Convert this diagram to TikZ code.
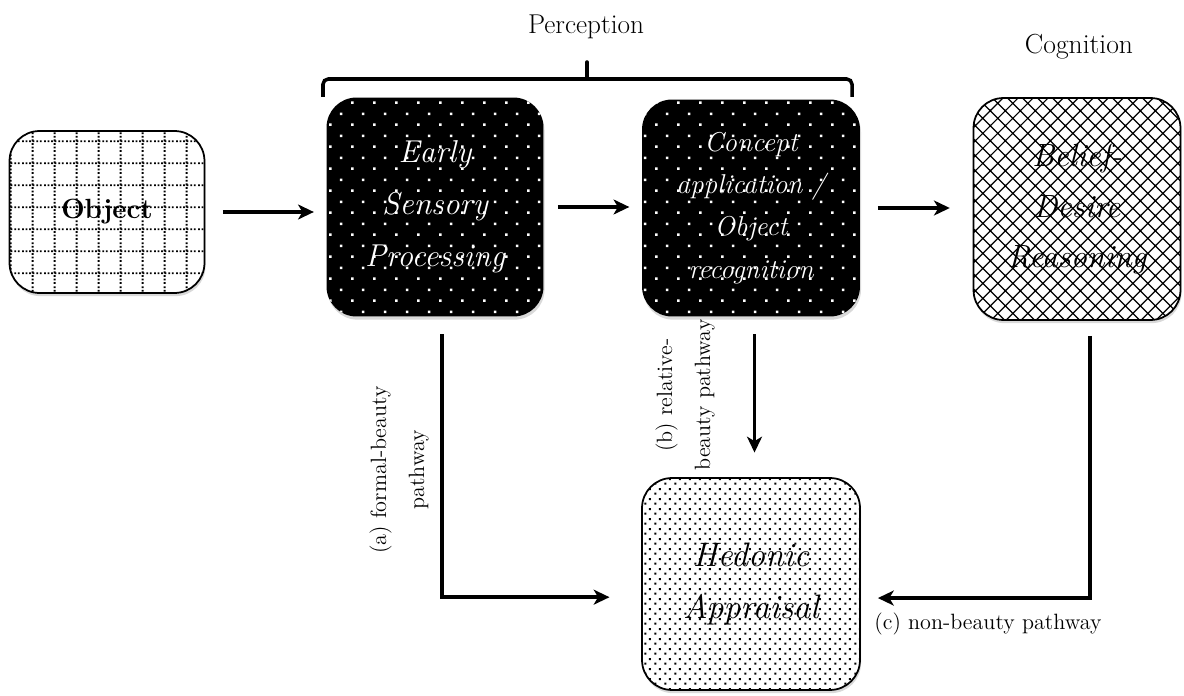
\documentclass[tikz,border=0pt]{standalone}
\usepackage{fontspec}
\usepackage{tikz}
\usetikzlibrary{calc,positioning,arrows.meta,shadows,patterns.meta}

% fill patterns of the stage boxes
\pgfdeclarepattern{
  name=dotgrid, type=uncolored,
  bottom left={\pgfpoint{0pt}{0pt}}, top right={\pgfpoint{12.35pt}{12.35pt}},
  tile size={\pgfpoint{12.35pt}{12.35pt}},
  code={
    \pgfsetlinewidth{1.1pt}
    \pgfsetdash{{1.03pt}{1.03pt}}{0pt}
    \pgfpathmoveto{\pgfpoint{0pt}{6.17pt}}\pgfpathlineto{\pgfpoint{12.35pt}{6.17pt}}
    \pgfpathmoveto{\pgfpoint{6.17pt}{0pt}}\pgfpathlineto{\pgfpoint{6.17pt}{12.35pt}}
    \pgfusepath{stroke}
  }
}
\pgfdeclarepattern{
  name=spotgrid, type=uncolored,
  bottom left={\pgfpoint{0pt}{0pt}}, top right={\pgfpoint{12.35pt}{12.35pt}},
  tile size={\pgfpoint{12.35pt}{12.35pt}},
  code={
    \pgfpathrectangle{\pgfpoint{2.4pt}{2.4pt}}{\pgfpoint{1.4pt}{1.4pt}}
    \pgfpathrectangle{\pgfpoint{8.57pt}{8.57pt}}{\pgfpoint{1.4pt}{1.4pt}}
    \pgfusepath{fill}
  }
}
\pgfdeclarepattern{
  name=crosshatch, type=uncolored,
  bottom left={\pgfpoint{-0.5pt}{-0.5pt}}, top right={\pgfpoint{9.04pt}{9.04pt}},
  tile size={\pgfpoint{8.54pt}{8.54pt}},
  code={
    \pgfsetlinewidth{0.7pt}
    \pgfpathmoveto{\pgfpoint{-1pt}{-1pt}}\pgfpathlineto{\pgfpoint{9.54pt}{9.54pt}}
    \pgfpathmoveto{\pgfpoint{-1pt}{9.54pt}}\pgfpathlineto{\pgfpoint{9.54pt}{-1pt}}
    \pgfusepath{stroke}
  }
}
\pgfdeclarepattern{
  name=speckle, type=uncolored,
  bottom left={\pgfpoint{0pt}{0pt}}, top right={\pgfpoint{5.46pt}{5.46pt}},
  tile size={\pgfpoint{5.46pt}{5.46pt}},
  code={
    \pgfpathrectangle{\pgfpoint{0.8pt}{0.8pt}}{\pgfpoint{1.15pt}{1.15pt}}
    \pgfpathrectangle{\pgfpoint{3.53pt}{3.53pt}}{\pgfpoint{1.15pt}{1.15pt}}
    \pgfusepath{fill}
  }
}

\tikzset{
  box/.style={rounded corners=0.6cm, inner sep=0pt, align=center,
    drop shadow={shadow xshift=0.6pt, shadow yshift=-1.8pt, opacity=0.3}},
  lightbox/.style={box, draw, line width=1pt, preaction={fill=white}},
  darkbox/.style={box, preaction={fill=black}, pattern=spotgrid, pattern color=white, text=white},
  flow/.style={line width=2.2pt, -{Stealth[length=9pt,width=8.5pt,inset=2.5pt]}},
  brace/.style={line width=2pt},
  pathlabel/.style={font=\fontsize{12.6}{21.6}\selectfont, align=center},
}

\begin{document}
\begin{tikzpicture}[x=0.02cm, y=-0.02cm]
\useasboundingbox (0,0) rectangle (1184,696);

% Stage boxes
\node[lightbox, pattern=dotgrid, minimum width=3.9cm, minimum height=3.24cm,
  font=\fontsize{15.8}{19}\selectfont\bfseries] (obj) at (107,212) {Object};
\node[darkbox, minimum width=4.34cm, minimum height=4.38cm,
  font=\fontsize{18}{29.6}\selectfont\itshape] (esp) at (435,207) {Early\\Sensory\\Processing};
\node[darkbox, minimum width=4.36cm, minimum height=4.34cm,
  font=\fontsize{15.5}{24}\selectfont\itshape] (cap) at (751,208) {Concept\\application /\\Object\\recognition};
\node[lightbox, pattern=crosshatch, minimum width=4.14cm, minimum height=4.44cm,
  font=\fontsize{18.3}{28.5}\selectfont\itshape] (bdr) at (1077,209) {Belief-\\Desire\\Reasoning};
\node[lightbox, pattern=speckle, minimum width=4.36cm, minimum height=4.24cm,
  font=\fontsize{19.3}{30}\selectfont\itshape] (hed) at (751,584) {Hedonic\\Appraisal};

% Group headings
\node[font=\fontsize{15.5}{19}\selectfont] (perc) at (586,27) {Perception};
\node[font=\fontsize{15.7}{19}\selectfont] (cogn) at (1079,47) {Cognition};

% Brace over the perception stages
\draw[brace, rounded corners=3pt] (323,97) -- (323,79) -- (852,79) -- (852,97);
\draw[brace, line cap=round] (587,79) -- (587,62);
\fill (580,80) .. controls (586,79) .. (586,70) -- (588,70) .. controls (588,79) .. (594,80) -- cycle;

% Main processing chain
\draw[flow, shorten <=10pt, shorten >=7pt] (obj.east) -- (obj.east -| esp.west);
\draw[flow, shorten <=8pt, shorten >=7pt] (esp.east) -- (esp.east -| cap.west);
\draw[flow, shorten <=10pt, shorten >=13pt] (cap.east) -- (cap.east -| bdr.west);

% Pathways into hedonic appraisal
\draw[flow] ([xshift=4pt,yshift=-10pt]esp.south) |- ([xshift=-18pt,yshift=-7.5pt]hed.west);
\draw[flow] ([xshift=2pt,yshift=-10pt]cap.south) -- ([xshift=2pt,yshift=14pt]hed.north);
\draw[flow] ([xshift=7.4pt,yshift=-8.5pt]bdr.south) |- ([xshift=9.7pt,yshift=-8pt]hed.east);

% Pathway labels
\node[pathlabel, rotate=90] (lbla) at (399,470) {(a) formal-beauty\\pathway};
\node[pathlabel, rotate=90] (lblb) at (685,395) {(b) relative-\\beauty pathway};
\node[pathlabel] (lblc) at (988,624) {(c) non-beauty pathway};

\end{tikzpicture}
\end{document}
